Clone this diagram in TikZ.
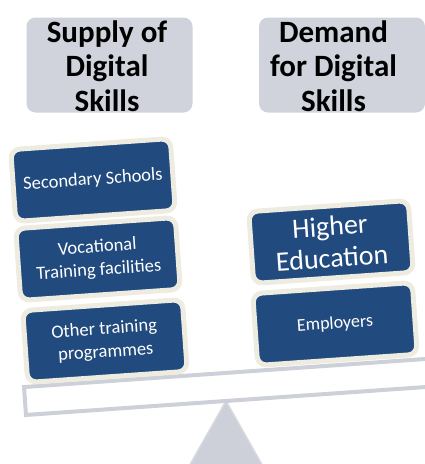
\documentclass[tikz,border=0pt]{standalone}
\usepackage{fontspec}
\setmainfont{Carlito}
\definecolor{boxblue}{HTML}{214A7E}
\definecolor{cream}{HTML}{EEECE1}
\definecolor{titlegrey}{HTML}{D0D3DC}
\definecolor{beamgrey}{HTML}{CDD0D8}
\tikzset{
  titlebox/.style={fill=titlegrey, rounded corners=9pt, minimum width=166pt, minimum height=95pt, inner sep=0pt},
  titletext/.style={align=center, font=\fontsize{31}{34.5}\selectfont\bfseries, text=black, inner sep=0pt},
  bluebox/.style={draw=cream, line width=5pt, fill=boxblue, rounded corners=9pt, minimum width=160pt, minimum height=72pt, inner sep=0pt, text=white, align=center, rotate=4},
  smalltext/.style={font=\fontsize{18.5}{23}\selectfont},
  bigtext/.style={font=\fontsize{28}{32}\selectfont},
}
\begin{document}
\begin{tikzpicture}[x=1pt,y=-1pt]
\useasboundingbox (0,0) rectangle (425,464);
\clip (0,0) rectangle (425,464);
% titles
\node[titlebox] (tl) at (109.5,65) {};
\node[titletext] (tlt) at (107,66) {Supply of\\Digital\\Skills};
\node[titlebox] (tr) at (342,65) {};
\node[titletext] (trt) at (333.5,66) {Demand\\for Digital\\Skills};
% fulcrum
\draw[fill=beamgrey, draw=beamgrey!80!white, line width=1.5pt, line join=round] (226,401) -- (170,500) -- (282,500) -- cycle;
% beam
\begin{scope}[shift={(25,401)}, rotate=4]
  \draw[draw=beamgrey, fill=white, line width=4pt] (0,-14) rectangle (460,14);
\end{scope}
% left stack
\node[bluebox, smalltext] (s1) at (93,180) {Secondary Schools};
\node[bluebox, smalltext] (s2) at (98,259) {Vocational\\Training facilities};
\node[bluebox, smalltext] (s3) at (105,341) {Other training\\programmes};
% right stack
\node[bluebox, bigtext] (d1) at (331,242) {Higher\\Education};
\node[bluebox, font=\fontsize{18}{22}\selectfont] (d2) at (335,324) {Employers};
\end{tikzpicture}
\end{document}
